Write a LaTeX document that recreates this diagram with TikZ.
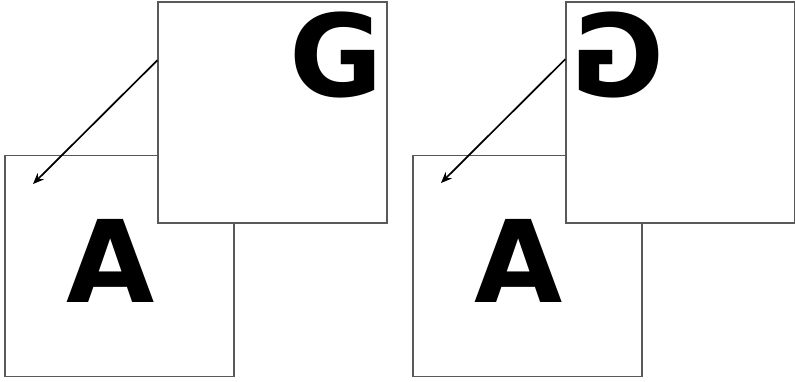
\documentclass[tikz,border=0pt]{standalone}
\usepackage{fontspec}
\setmainfont{DejaVu Sans}
\usetikzlibrary{arrows.meta,calc}
\begin{document}
\begin{tikzpicture}[x=1pt,y=-1pt,
  card/.style={draw=black!65,line width=1.3pt,fill=white,inner sep=0pt,minimum width=229pt,minimum height=221pt},
  letter/.style={inner sep=0pt,anchor=base,font=\fontsize{114}{114}\selectfont\bfseries},
  move/.style={line width=1.7pt,-{Stealth[length=11pt,width=9pt]}}]
\useasboundingbox (0,0) rectangle (795,381);
% left pair
\node[card] (aL) at (119.5,266) {};
\node[card] (gL) at (272.5,112.5) {};
\node[letter] (la) at (111,302) {A};
\node[letter] (lg) at (336.5,96) {G};
\coordinate (sL) at ($(gL.north west)!0.265!(gL.south west)$);
\coordinate (eL) at (33,184);
\draw[move] (sL) -- (eL);
% right pair
\node[card] (aR) at (527.5,266) {};
\node[card] (gR) at (680.5,112.5) {};
\node[letter] (ra) at (519,302) {A};
\node[letter,xscale=-1] (rg) at (617.5,96) {G};
\coordinate (sR) at ($(gR.north west)!0.26!(gR.south west)$);
\coordinate (eR) at (441,183);
\draw[move] (sR) -- (eR);
\end{tikzpicture}
\end{document}
